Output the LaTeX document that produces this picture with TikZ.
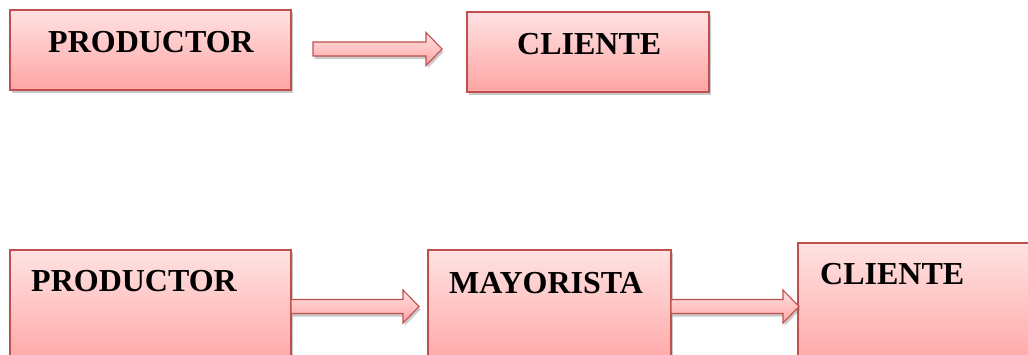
\documentclass[tikz,border=0pt]{standalone}
\usepackage{fontspec}
\setmainfont{Liberation Serif}
\usetikzlibrary{calc,shadows}
\definecolor{bordred}{HTML}{C0504D}
\definecolor{topfill}{HTML}{FFE2E2}
\definecolor{botfill}{HTML}{FFA4A4}
\tikzset{
  box/.style={draw=bordred, line width=1.1pt, top color=topfill, bottom color=botfill,
    anchor=north west, inner sep=0pt, outer sep=0pt,
    drop shadow={shadow xshift=1.5pt, shadow yshift=-3pt, opacity=0.35, fill=black!60}},
  blk/.style={draw=bordred, line width=1.1pt, top color=topfill, bottom color=botfill,
    drop shadow={shadow xshift=1.5pt, shadow yshift=-3pt, opacity=0.35, fill=black!60}},
  lbl/.style={anchor=base west, inner sep=0pt, font=\fontsize{32}{38}\selectfont\bfseries}
}
\newcommand{\blockarrow}[2]{%
  \path[blk] ($(#1)+(0,-7)$) -- ($(#2)+(-16,-7)$) -- ($(#2)+(-16,-16.5)$) -- (#2)
    -- ($(#2)+(-16,16.5)$) -- ($(#2)+(-16,7)$) -- ($(#1)+(0,7)$) -- cycle;}
\begin{document}
\begin{tikzpicture}[x=1pt,y=-1pt]
\clip (0,0) rectangle (1028,354);
\fill[white] (0,0) rectangle (1028,354);
% top row
\node[box, minimum width=281pt, minimum height=80pt] (p1) at (10,10) {};
\node[box, minimum width=242pt, minimum height=80pt] (c1) at (467,12) {};
\node[lbl] (tp1) at (48,52) {PRODUCTOR};
\node[lbl] (tc1) at (517,54) {CLIENTE};
\coordinate (a0s) at (313,49);
\coordinate (a0t) at (442,49);
\blockarrow{a0s}{a0t}
% bottom row
\node[box, minimum width=281pt, minimum height=120pt] (p2) at (10,250) {};
\node[box, minimum width=243pt, minimum height=120pt] (m2) at (428,250) {};
\node[box, minimum width=250pt, minimum height=127pt] (c2) at (798,243) {};
\node[lbl] (tp2) at (31,291) {PRODUCTOR};
\node[lbl] (tm2) at (449,293) {MAYORISTA};
\node[lbl] (tc2) at (820,284) {CLIENTE};
\coordinate (a1s) at ($(p2.north east)+(0,56.5)$);
\coordinate (a1t) at ($(m2.north west)+(-9,56.5)$);
\blockarrow{a1s}{a1t}
\coordinate (a2s) at ($(m2.north east)+(0,56.5)$);
\coordinate (a2t) at ($(c2.north west)+(1,63.5)$);
\blockarrow{a2s}{a2t}
\end{tikzpicture}
\end{document}
